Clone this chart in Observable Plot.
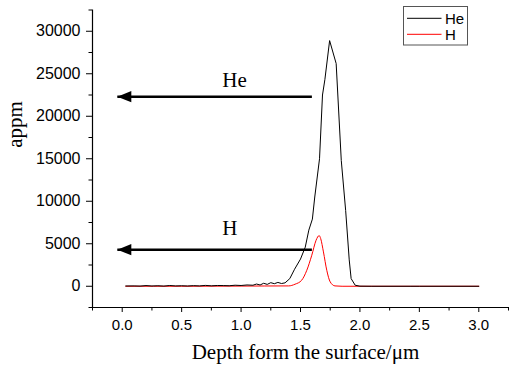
<!DOCTYPE html>
<html>
<head>
<meta charset="utf-8">
<script src="https://cdn.jsdelivr.net/npm/d3@7"></script>
<script src="https://cdn.jsdelivr.net/npm/@observablehq/plot@0.6"></script>
<style>
  html, body { margin: 0; padding: 0; background: #fff; }
  #wrap { position: relative; width: 512px; height: 366px; }
  #legend { position: absolute; left: 403px; top: 6px; }
</style>
</head>
<body>
<div id="wrap"></div>
<script>
// ---- data ----
const heDepth = [0.03, 0.1, 0.15, 0.2, 0.25, 0.3, 0.35, 0.4, 0.45, 0.5, 0.55, 0.6, 0.65, 0.7, 0.75, 0.8, 0.85, 0.9, 0.95, 1.0, 1.05, 1.1, 1.13, 1.16, 1.19, 1.22, 1.25, 1.28, 1.31, 1.34, 1.37, 1.41, 1.45, 1.5, 1.54, 1.57, 1.6, 1.62, 1.66, 1.685, 1.705, 1.745, 1.8, 1.843, 1.88, 1.91, 1.926, 1.96, 2.0, 2.1, 2.5, 3.0];
const heValue = [30, 40, 20, 80, 30, 60, 20, 90, 40, 60, 30, 70, 40, 100, 50, 90, 80, 60, 120, 90, 150, 120, 260, 150, 350, 220, 420, 300, 450, 320, 400, 900, 2000, 3200, 4600, 6600, 7900, 10500, 15000, 22500, 24300, 28900, 26200, 14800, 8900, 3100, 900, 120, 10, 0, 0, 0];

const hDepth = [0.03, 0.5, 1.0, 1.2, 1.4, 1.454, 1.51, 1.553, 1.595, 1.631, 1.657, 1.67, 1.693, 1.721, 1.75, 1.79, 1.85, 3.0];
const hValue = [0, 0, 20, 30, 40, 240, 710, 1880, 3650, 5410, 5960, 5600, 4040, 1880, 510, 40, 0, 0];

const seriesNames = ["He", "H"];
const seriesColors = ["#000000", "#ff0000"];

const arrowLabels = ["He", "H"];
const arrowY = [22300, 4300];
const arrowFrom = [1.6, 1.6];
const arrowTo = [-0.037, -0.037];
const labelX = [0.945, 0.905];
const labelY = [23400, 6000];

const xMajor = [0, 0.5, 1.0, 1.5, 2.0, 2.5, 3.0];
const xMinor = [-0.25, 0.25, 0.75, 1.25, 1.75, 2.25, 2.75, 3.25];
const yMajor = [0, 5000, 10000, 15000, 20000, 25000, 30000];
const yMinor = [-2500, 2500, 7500, 12500, 17500, 22500, 27500, 32500];

const xTitle = "Depth form the surface/μm";
const yTitle = "appm";

// ---- build tables ----
const he = heDepth.map((d, i) => ({depth: d, value: heValue[i]}));
const h = hDepth.map((d, i) => ({depth: d, value: hValue[i]}));
const arrows = arrowLabels.map((l, i) => ({label: l, x1: arrowFrom[i], x2: arrowTo[i], y: arrowY[i], lx: labelX[i], ly: labelY[i]}));

const leftTriangle = {
  draw(context, size) {
    const k = Math.sqrt(size / Math.PI);
    context.moveTo(-k, 0);
    context.lineTo(k, -0.8 * k);
    context.lineTo(k, 0.8 * k);
    context.closePath();
  }
};

const serif = "Liberation Serif, Times New Roman, serif";
const sans = "Liberation Sans, Arial, Helvetica, sans-serif";

const chart = Plot.plot({
  width: 512,
  height: 366,
  marginLeft: 92,
  marginRight: 4,
  marginTop: 9.5,
  marginBottom: 59,
  x: {domain: [-0.25, 3.25]},
  y: {domain: [-2500, 32500]},
  style: {fontFamily: sans, color: "#000", background: "#fff", overflow: "visible"},
  marks: [
    Plot.ruleX([-0.25], {stroke: "#000", strokeWidth: 1.2}),
    Plot.ruleY([-2500], {stroke: "#000", strokeWidth: 1.2}),
    Plot.axisY({ticks: yMajor, tickSize: 6, tickPadding: 6, fontSize: 16, label: null, tickFormat: d3.format("d"), stroke: "#000"}),
    Plot.axisY({ticks: yMinor, tickSize: 3.5, label: null, tickFormat: () => "", stroke: "#000"}),
    Plot.axisX({ticks: xMajor, tickSize: 5, tickPadding: 7, fontSize: 15, label: null, tickFormat: d3.format(".1f"), stroke: "#000"}),
    Plot.axisX({ticks: xMinor, tickSize: 3.5, label: null, tickFormat: () => "", stroke: "#000"}),
    Plot.line(h, {x: "depth", y: "value", stroke: seriesColors[1], strokeWidth: 1, curve: "monotone-x"}),
    Plot.line(he, {x: "depth", y: "value", stroke: seriesColors[0], strokeWidth: 1}),
    Plot.ruleY(arrows, {x1: "x1", x2: "x2", y: "y", stroke: "#000", strokeWidth: 2.4}),
    Plot.dot(arrows, {x: "x2", y: "y", symbol: leftTriangle, r: 7, dx: 6.5, fill: "#000", stroke: "none"}),
    Plot.text(arrows, {x: "lx", y: "ly", text: "label", fontFamily: serif, fontSize: 21, textAnchor: "middle", lineAnchor: "bottom", fill: "#000"}),
    Plot.text([xTitle], {frameAnchor: "bottom", dx: 5, dy: 51, lineAnchor: "bottom", fontFamily: serif, fontSize: 21, fill: "#000"}),
    Plot.text([yTitle], {frameAnchor: "left", dx: -71, dy: -11, rotate: -90, lineAnchor: "bottom", fontFamily: serif, fontSize: 21, fill: "#000"})
  ]
});

const wrap = document.getElementById("wrap");
wrap.appendChild(chart);

// legend inside the plot area
const legend = d3.create("svg")
  .attr("id", "legend")
  .attr("width", 66)
  .attr("height", 40)
  .style("position", "absolute")
  .style("left", "403px")
  .style("top", "6px");
legend.append("rect")
  .attr("x", 0.5).attr("y", 0.5).attr("width", 64).attr("height", 38.5)
  .attr("fill", "#fff").attr("stroke", "#555").attr("stroke-width", 1);
seriesNames.forEach((name, i) => {
  const cy = 12.3 + i * 16;
  legend.append("line")
    .attr("x1", 4).attr("x2", 38.5).attr("y1", cy).attr("y2", cy)
    .attr("stroke", seriesColors[i]).attr("stroke-width", 1);
  legend.append("text")
    .attr("x", 42).attr("y", cy + 5.3)
    .attr("font-family", sans).attr("font-size", 15)
    .attr("fill", "#000")
    .text(name);
});
wrap.appendChild(legend.node());
</script>
</body>
</html>
